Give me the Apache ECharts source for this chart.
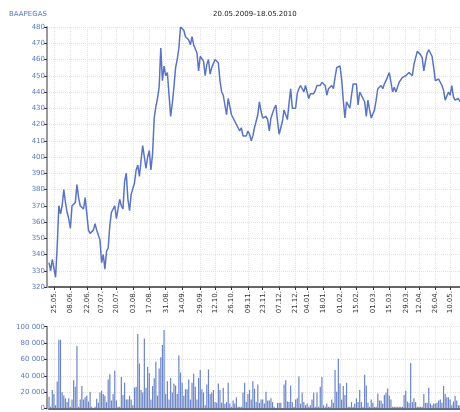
<!DOCTYPE html>
<html><head><meta charset="utf-8">
<script src="https://cdn.jsdelivr.net/npm/echarts@6/dist/echarts.min.js"></script>
<style>html,body{margin:0;padding:0;background:#fff}#c{width:460px;height:412px}</style>
</head><body><div id="c"></div>
<script>
const TITLE = 'BAAPEGAS';
const PERIOD = '20.05.2009–18.05.2010';
const START = '2009-05-20';
const END = '2010-05-18';
const HOLIDAYS = ['2009-06-23','2009-06-24','2009-11-18','2009-12-24','2009-12-25','2010-01-01','2010-04-02','2010-04-05','2010-05-04'];
const TICK_LABELS = ['25.05.','08.06.','22.06.','07.07.','20.07.','03.08.','17.08.','31.08.','14.09.','29.09.','12.10.','26.10.','09.11.','23.11.','07.12.','21.12.','04.01.','18.01.','01.02.','15.02.','01.03.','15.03.','29.03.','12.04.','26.04.','10.05.'];
const PRICE = [
335,330,337,337,326,345,370,365,370,380,
372,366,362,356,370,369,372,383,375,370,
369,368,375,365,355,353,352,355,359,355,
352,349,335,340,331,342,344,358,366,368,
370,362,368,374,370,368,385,390,374,367,
377,378,384,392,395,388,398,407,400,393,
400,404,392,402,424,431,436,443,467,447,
456,450,452,452,425,433,443,455,460,467,
480,479,478,474,475,472,469,474,469,470,
464,453,462,463,459,450,457,460,451,455,
456,460,460,458,447,440,438,437,426,436,
431,426,425,422,422,418,416,418,413,413,
413,416,414,410,413,418,422,426,434,428,
424,423,425,423,416,424,427,430,432,422,
414,418,422,429,429,423,433,442,430,430,
430,439,442,444,442,440,444,444,436,439,
440,439,441,444,443,444,446,447,444,438,
442,443,444,442,449,455,455,456,448,435,
424,434,433,430,438,445,445,445,432,440,
438,436,434,425,435,429,424,423,429,435,
442,442,444,442,445,447,447,452,446,440,
443,440,443,446,445,449,448,450,449,452,
451,450,457,461,465,464,463,461,453,459,
464,466,464,462,455,447,447,448,446,444,
441,435,434,440,438,444,437,435,434,436,
434
];
const VOLUME = [
14500,2000,22700,17600,4000,33000,84000,84000,20000,16000,
12500,8000,12500,2000,11000,34500,26700,76500,2000,11000,
27500,11000,13700,15700,8600,20400,2000,500,2000,11800,
7000,19600,21600,17600,15700,7800,35300,42000,9800,17600,
46300,9800,2000,2000,38400,16500,31400,11000,11000,15700,
11000,4000,25500,26700,91000,55000,22700,19600,85500,25500,
51000,43000,11000,27500,37000,57000,15700,49000,62700,77600,
96000,17600,33300,11000,37300,19600,30600,28200,17600,64700,
44000,31400,15700,23500,23500,35300,11000,31400,42400,26700,
11000,37300,47000,23500,19600,4000,29400,47800,17600,19600,
22700,7800,7000,30600,22700,7000,25500,5900,7800,31400,
6000,2000,9800,6000,13700,2000,2000,2000,19600,31400,
7800,17600,22700,11000,33300,24300,7800,29400,7000,11000,
11000,6000,20400,9800,9800,12500,7800,2000,500,7000,
7000,7000,500,29400,34500,8600,7800,28200,7800,2000,
11000,12500,39200,6000,19600,7800,4000,6000,2000,4000,
11000,19600,2000,19600,2000,26700,38400,4000,2000,6000,
2000,2000,11000,7000,47000,20400,60800,30600,11000,27500,
16500,31400,2000,2000,7800,2000,6000,12500,7800,22700,
7800,2000,41200,28200,7000,2000,11000,7000,2000,2000,
18400,9800,9800,6000,16500,19600,24300,15700,11000,2000,
2000,2000,2000,2000,2000,2000,16500,21600,8600,7000,
55700,7800,12500,7800,2000,2000,2000,2000,17600,7000,
7000,25500,6000,4000,6000,6000,7000,9800,11000,7000,
27500,17600,13700,13700,11000,4000,8600,15700,9800,4000,
4000
];

function tradingDays() {
  const out = [];
  let d = new Date(START + 'T00:00:00Z');
  const e = new Date(END + 'T00:00:00Z');
  while (d <= e) {
    const wd = d.getUTCDay();
    const iso = d.toISOString().slice(0, 10);
    if (wd !== 0 && wd !== 6 && HOLIDAYS.indexOf(iso) < 0) {
      out.push(iso.slice(8, 10) + '.' + iso.slice(5, 7) + '.');
    }
    d = new Date(d.getTime() + 86400000);
  }
  return out;
}
const DATES = tradingDays();
const tickSet = new Set(TICK_LABELS);
const showTick = (i, v) => tickSet.has(v);
const FONT = 'DejaVu Sans';
const GRID_LINE = {show: true, lineStyle: {type: 'dotted', color: '#e2e2e2', width: 1}};
const fmtThousands = v => String(v).replace(/\B(?=(\d{3})+(?!\d))/g, ' ');

const chart = echarts.init(document.getElementById('c'), null, {renderer: 'canvas'});
chart.setOption({
  animation: false,
  backgroundColor: '#fff',
  title: [
    {text: TITLE, left: 9, top: 11, padding: 0,
     textStyle: {fontFamily: FONT, fontSize: 7, fontWeight: 'normal', color: '#5a78c4'}},
    {text: PERIOD, left: 213, top: 11, padding: 0,
     textStyle: {fontFamily: FONT, fontSize: 7, fontWeight: 'normal', color: '#222'}}
  ],
  grid: [
    {left: 49, top: 27, width: 411.6, height: 260},
    {left: 49, top: 326.7, width: 411.6, height: 85}
  ],
  xAxis: [
    {type: 'category', gridIndex: 0, data: DATES, boundaryGap: false,
     axisLine: {show: true, lineStyle: {color: '#666', width: 2}},
     axisTick: {show: true, interval: showTick, length: 3, lineStyle: {color: '#333'}},
     axisLabel: {interval: showTick, rotate: 90, fontFamily: FONT, fontSize: 7, color: '#333', margin: 4},
     splitLine: Object.assign({interval: showTick}, GRID_LINE)},
    {type: 'category', gridIndex: 1, data: DATES, boundaryGap: false,
     axisLine: {show: true, lineStyle: {color: '#666', width: 2}},
     axisTick: {show: false},
     axisLabel: {show: false},
     splitLine: Object.assign({interval: showTick}, GRID_LINE)}
  ],
  yAxis: [
    {type: 'value', gridIndex: 0, min: 320, max: 480, interval: 10, offset: 2,
     axisLine: {show: true, lineStyle: {color: '#999', width: 2}},
     axisTick: {show: true, length: 3, lineStyle: {color: '#333'}},
     axisLabel: {fontFamily: FONT, fontSize: 7, color: '#5a78c4', margin: 2},
     splitLine: GRID_LINE},
    {type: 'value', gridIndex: 1, min: 0, max: 100000, interval: 20000, offset: 2,
     axisLine: {show: true, lineStyle: {color: '#999', width: 2}},
     axisTick: {show: true, length: 3, lineStyle: {color: '#333'}},
     axisLabel: {fontFamily: FONT, fontSize: 7, color: '#5a78c4', margin: 2, formatter: fmtThousands},
     splitLine: GRID_LINE}
  ],
  series: [
    {type: 'line', xAxisIndex: 0, yAxisIndex: 0, data: PRICE, showSymbol: false,
     lineStyle: {color: '#5a74c2', width: 1.5}, itemStyle: {color: '#5a74c2'}},
    {type: 'bar', xAxisIndex: 1, yAxisIndex: 1, data: VOLUME, barWidth: 1.2,
     itemStyle: {color: '#6b85c7'}}
  ]
});
</script>
</body></html>
